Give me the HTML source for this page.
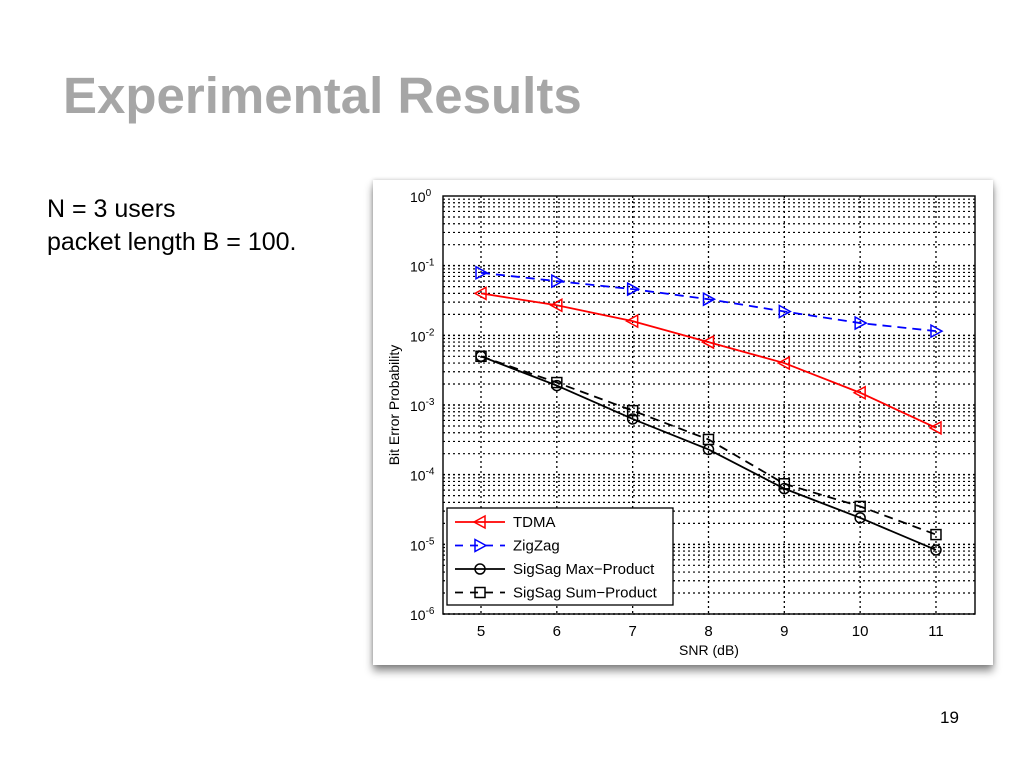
<!DOCTYPE html>
<html><head><meta charset="utf-8"><style>
body{margin:0;width:1024px;height:768px;background:#fff;position:relative;overflow:hidden;font-family:"Liberation Sans",sans-serif}
.t{position:absolute;left:63px;top:66px;font-size:51px;font-weight:bold;color:#a6a6a6}
.b{position:absolute;left:47px;top:193px;font-size:25px;line-height:33px;color:#000}
.n{position:absolute;left:940px;top:708px;font-size:17px}
.panel{position:absolute;left:373px;top:180px;width:620px;height:485px;background:#fff;box-shadow:0 6px 8px rgba(0,0,0,0.45),0 0 4px rgba(0,0,0,0.2)}
</style></head><body>
<div class="t">Experimental Results</div>
<div class="b">N = 3 users<br>packet length B = 100.</div>
<div class="n">19</div>
<div class="panel"></div>
<svg id="c" width="1024" height="768" style="position:absolute;left:0;top:0"></svg>
<script>
const snr=[5,6,7,8,9,10,11];
const tdma=[0.04,0.027,0.016,0.008,0.004,0.0015,0.00047];
const zigzag=[0.079,0.06,0.046,0.033,0.022,0.015,0.0115];
const maxProd=[0.005,0.0019,0.00063,0.00023,0.000063,0.000024,0.0000083];
const sumProd=[0.005,0.0021,0.00083,0.00032,0.000074,0.000035,0.0000138];
const yTicks=[0,-1,-2,-3,-4,-5,-6];
const NS="http://www.w3.org/2000/svg";
const svg=document.getElementById('c');
const L=443,R=975,T=196,B=614;
const xs=v=>481+(v-5)*75.83;
const ys=v=>T-Math.log10(v)*(B-T)/6;
function mk(t,a,p){const e=document.createElementNS(NS,t);for(const k in a)e.setAttribute(k,a[k]);(p||svg).appendChild(e);return e;}
for(let d=0;d<6;d++)for(let m=1;m<10;m++){const y=ys(m*Math.pow(10,-d-1));
const g=mk('line',{x1:L,x2:R,y1:y,y2:y,stroke:'#000','stroke-width':m==1?1.5:1.2,'stroke-dasharray':'2,3'});

}
snr.forEach(v=>{const g=mk('line',{x1:xs(v),x2:xs(v),y1:T,y2:B,stroke:'#000','stroke-width':1.3,'stroke-dasharray':'2,3'});


const tk=mk('text',{x:xs(v),y:636,'font-size':15,'text-anchor':'middle','font-family':'Liberation Sans'});tk.textContent=v;

});
yTicks.forEach(p=>{const y=ys(Math.pow(10,p));const tx=mk('text',{x:410,y:y+6,'font-size':14,'font-family':'Liberation Sans'});
tx.innerHTML='10<tspan dy="-6" font-size="10">'+p+'</tspan>';

});
const ax=mk('rect',{x:L,y:T,width:R-L,height:B-T,fill:'none',stroke:'#000','stroke-width':1.4});


const xl=mk('text',{x:709,y:655,'font-size':14,'text-anchor':'middle','font-family':'Liberation Sans'});xl.textContent='SNR (dB)';


const yl=mk('text',{x:0,y:0,'font-size':14,'text-anchor':'middle','font-family':'Liberation Sans',transform:'translate(399,405) rotate(-90)'});yl.textContent='Bit Error Probability';


function marker(kind,x,y,col,g){
 if(kind=='l')mk('polygon',{points:`${x-6},${y} ${x+5},${y-6} ${x+5},${y+6}`,fill:'none',stroke:col,'stroke-width':1.5},g);
 if(kind=='r')mk('polygon',{points:`${x+6},${y} ${x-5},${y-6} ${x-5},${y+6}`,fill:'none',stroke:col,'stroke-width':1.5},g);
 if(kind=='o')mk('circle',{cx:x,cy:y,r:5,fill:'none',stroke:col,'stroke-width':1.5},g);
 if(kind=='s')mk('rect',{x:x-5,y:y-5,width:10,height:10,fill:'none',stroke:col,'stroke-width':1.5},g);
}
const series=[[tdma,'#f00','','l','series-tdma'],[zigzag,'#00f','9,6','r','series-zigzag'],[maxProd,'#000','','o','series-max-product'],[sumProd,'#000','9,6','s','series-sum-product']];
series.forEach(s=>{const g=mk('g',{});


mk('polyline',{points:s[0].map((v,i)=>xs(snr[i])+','+ys(v)).join(' '),fill:'none',stroke:s[1],'stroke-width':1.8,'stroke-dasharray':s[2]},g);
s[0].forEach((v,i)=>marker(s[3],xs(snr[i]),ys(v),s[1],g));});
const lg=mk('g',{});


mk('rect',{x:447,y:508,width:226,height:97,fill:'#fff',stroke:'#000','stroke-width':1.3},lg);
const names=['TDMA','ZigZag','SigSag Max\u2212Product','SigSag Sum\u2212Product'];
series.forEach((s,i)=>{const y=522+i*23.5;
mk('line',{x1:455,x2:505,y1:y,y2:y,stroke:s[1],'stroke-width':1.8,'stroke-dasharray':s[2]?'8,7':''},lg);
marker(s[3],480,y,s[1],lg);
const t=mk('text',{x:513,y:y+5,'font-size':15,'font-family':'Liberation Sans'},lg);t.textContent=names[i];

});
</script>
</body></html>
